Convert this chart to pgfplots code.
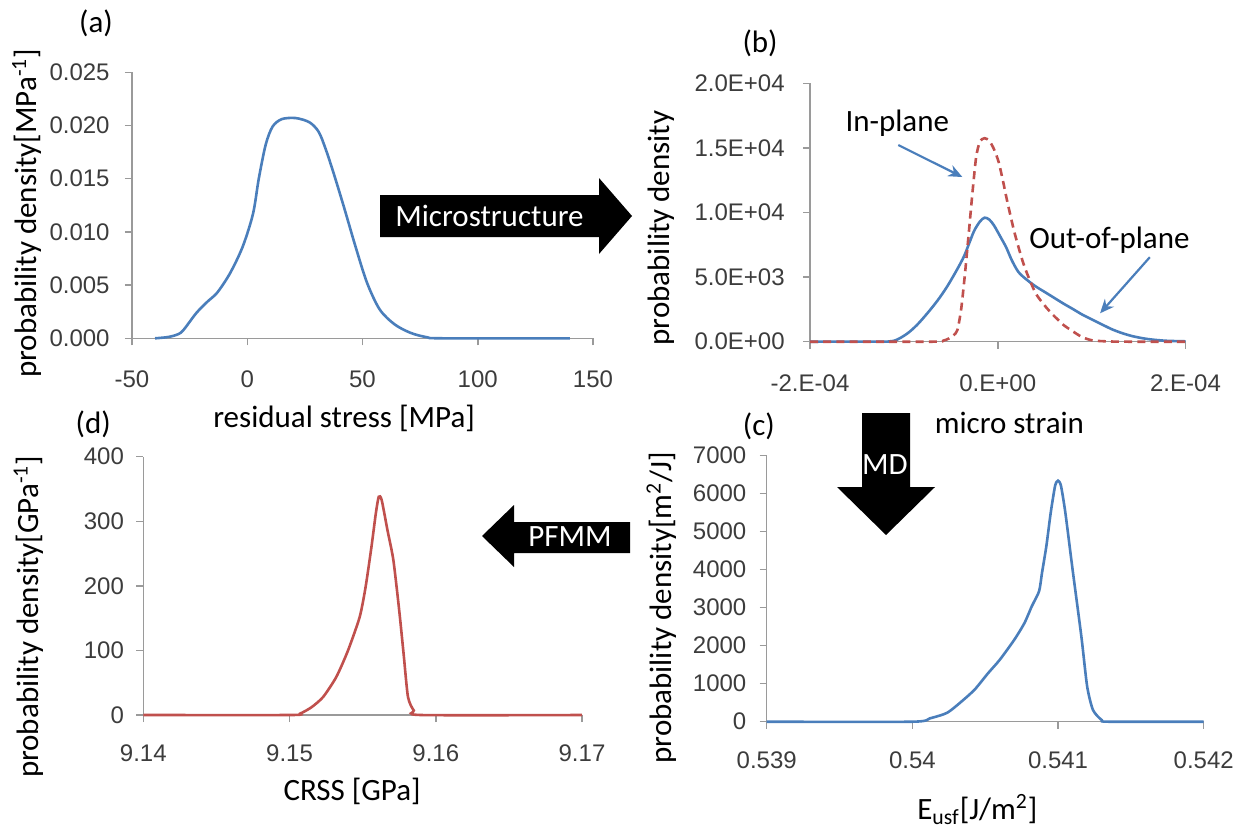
\documentclass[border=0pt]{standalone}
\usepackage{fontspec}
\setmainfont{Carlito}
\newfontfamily\tickfont{Liberation Sans}
\usepackage{pgfplots}
\pgfplotsset{compat=1.18}
\usetikzlibrary{arrows.meta}

\definecolor{lblue}{HTML}{4A7EBB}
\definecolor{lred}{HTML}{C0504D}
\definecolor{axgray}{HTML}{9A9A9A}
\definecolor{tgray}{HTML}{3C3C3C}

\tikzset{plab/.style={font=\fontsize{15.5}{18}\selectfont, inner sep=0pt}}
\pgfplotsset{
  panel/.style={
    scale only axis, clip=false, enlargelimits=false,
    scaled ticks=false,
    axis lines=left,
    axis line style={axgray, line width=0.75pt, -},
    every tick/.style={axgray, line width=0.75pt},
    tick align=outside,
    major tick length=3.5pt,
    tick label style={font=\tickfont\fontsize{12}{14}\selectfont, text=tgray, inner sep=0pt},
    xticklabel style={anchor=center},
    yticklabel style={anchor=east},
    label style={font=\fontsize{15.5}{18}\selectfont, inner sep=0pt},
    xlabel style={anchor=center},
    ylabel style={anchor=center},
  },
}

\begin{document}
\begin{tikzpicture}
\useasboundingbox (0,0) rectangle (623.5pt,413.5pt);

% ---------------- (a)
\begin{axis}[panel, at={(66pt,244.35pt)}, anchor=south west,
  width=230.5pt, height=133pt,
  xmin=-50, xmax=150, ymin=0, ymax=0.025,
  xtick={-50,0,50,100,150}, xticklabels={-50,0,50,100,150},
  ytick={0,0.005,0.01,0.015,0.02,0.025},
  yticklabels={0.000,0.005,0.010,0.015,0.020,0.025},
  xticklabel style={yshift=-17pt},
  yticklabel style={xshift=-7.5pt},
  xlabel={residual stress [MPa]},
  ylabel={probability density[MPa\textsuperscript{-1}]},
  xlabel style={at={(axis description cs:0.46,-0.30)}},
  ylabel style={at={(axis description cs:-0.228,0.47)}},
]
\addplot[lblue, line width=1.3pt, smooth, tension=0.5] table {
-40 0.0000
-35 0.0001
-31 0.0003
-28 0.0007
-22 0.0024
-17 0.0035
-13 0.0043
-7.5 0.0061
-2 0.0086
2.5 0.0117
5 0.0150
8 0.0182
11 0.0199
15 0.0206
21 0.0207
27 0.0203
31 0.0194
34 0.0178
37.5 0.0155
42 0.0123
47 0.0086
52 0.0052
57.5 0.0027
64 0.0013
71 0.0005
78 0.0001
85 0.0000
140 0.0000
};
\node[plab] at (axis description cs:-0.078,1.184) {(a)};
\end{axis}

% ---------------- (b)
\begin{axis}[panel, at={(405pt,242.65pt)}, anchor=south west,
  width=187.75pt, height=129.2pt,
  xmin=-200, xmax=200, ymin=0, ymax=20000,
  xtick={-200,0,200}, xticklabels={-2.E-04,0.E+00,2.E-04},
  ytick={0,5000,10000,15000,20000},
  yticklabels={0.0E+00,5.0E+03,1.0E+04,1.5E+04,2.0E+04},
  xticklabel style={yshift=-17.5pt},
  yticklabel style={xshift=-9pt},
  xlabel={micro strain},
  ylabel={probability density},
  xlabel style={at={(axis description cs:0.531,-0.313)}},
  ylabel style={at={(axis description cs:-0.395,0.44)}},
]
\addplot[lblue, line width=1.3pt, smooth, tension=0.5] table {
-200 0
-130 10
-111 60
-97 600
-86 1300
-75 2200
-64 3200
-54 4260
-44 5500
-36 6600
-30 7700
-25 8600
-19 9300
-14 9600
-9 9450
-4 9000
3 8100
9 7300
15 6300
22 5400
30 4850
40 4300
50 3850
60 3400
70 2950
80 2530
90 2100
101 1700
112 1300
122 950
133 650
144 420
155 260
165 160
180 70
200 30
};
\addplot[lred, line width=1.3pt, dash pattern=on 4pt off 2.6pt, smooth, tension=0.4] table {
-200 0
-70 0
-58 80
-52 250
-47 500
-43 900
-39 2500
-35 5200
-31 8300
-27 11500
-23 14300
-19 15500
-14 15750
-9 15550
-4 14900
1 13900
6 12300
10 10900
18 8400
28 5900
40 3800
50 2800
58 2140
70 1300
80 800
90 350
101 100
118 20
140 0
200 0
};
\draw[lblue, line width=1.1pt, -{Stealth[length=7pt,width=6pt]}] (axis cs:-106,15224) -- (axis cs:-37.7,12747);
\draw[lblue, line width=1.1pt, -{Stealth[length=7pt,width=6pt]}] (axis cs:162,6540) -- (axis cs:109,2200);
\node[plab] at (axis cs:-107,16927) {In-plane};
\node[plab] at (axis cs:119,7870) {Out-of-plane};
\node[plab] at (axis description cs:-0.133,1.154) {(b)};
\end{axis}

% ---------------- (c)
\begin{axis}[panel, at={(383.35pt,52.65pt)}, anchor=south west,
  width=218.5pt, height=133pt,
  xmin=0.539, xmax=0.542, ymin=0, ymax=7000,
  xtick={0.539,0.54,0.541,0.542}, xticklabels={0.539,0.54,0.541,0.542},
  ytick={0,1000,2000,3000,4000,5000,6000,7000},
  yticklabels={0,1000,2000,3000,4000,5000,6000,7000},
  xticklabel style={yshift=-16pt},
  yticklabel style={xshift=-6.5pt},
  xlabel={E\textsubscript{usf}[J/m\textsuperscript{2}]},
  ylabel={probability density[m\textsuperscript{2}/J]},
  xlabel style={at={(axis description cs:0.482,-0.33)}},
  ylabel style={at={(axis description cs:-0.241,0.429)}},
]
\addplot[lblue, line width=1.3pt, smooth, tension=0.4] table {
0.5390 0
0.5400 0
0.54012 88
0.54024 238
0.54035 573
0.54043 855
0.54052 1278
0.54060 1630
0.54070 2159
0.54077 2600
0.54082 3040
0.54087 3436
0.54089 3920
0.54092 4626
0.54095 5507
0.54098 6211
0.54100 6344
0.54102 6211
0.54105 5507
0.54110 4000
0.54116 2247
0.54120 925
0.54124 308
0.54130 44
0.54135 0
0.5420 0
};
\node[plab] at (axis description cs:-0.018,1.112) {(c)};
\end{axis}

% ---------------- (d)
\begin{axis}[panel, at={(71.65pt,56pt)}, anchor=south west,
  width=219.35pt, height=129.15pt,
  xmin=9.14, xmax=9.17, ymin=0, ymax=400,
  xtick={9.14,9.15,9.16,9.17}, xticklabels={9.14,9.15,9.16,9.17},
  ytick={0,100,200,300,400}, yticklabels={0,100,200,300,400},
  xticklabel style={yshift=-15.5pt},
  yticklabel style={xshift=-6pt},
  xlabel={CRSS [GPa]},
  ylabel={probability density[GPa\textsuperscript{-1}]},
  xlabel style={at={(axis description cs:0.476,-0.295)}},
  ylabel style={at={(axis description cs:-0.262,0.38)}},
]
\addplot[lred, line width=1.3pt, smooth, tension=0.4] table {
9.140 0
9.150 0
9.1507 2
9.1515 12
9.1523 28
9.1532 59
9.1540 100
9.1548 152
9.1552 198
9.1556 260
9.1559 312
9.1561 338
9.1563 333
9.1567 286
9.1571 240
9.1575 162
9.1578 95
9.1581 28
9.1585 7
9.1590 0
9.170 0
};
\node[plab] at (axis description cs:-0.114,1.124) {(d)};
\end{axis}

% ---------------- block arrows
\fill[black] (190pt,316pt) -- (299.5pt,316pt) -- (299.5pt,324.5pt) -- (316pt,305.5pt)
  -- (299.5pt,286.5pt) -- (299.5pt,295pt) -- (190pt,295pt) -- cycle;
\node[plab, text=white] at (244.75pt,305.5pt) {Microstructure};

\fill[black] (315pt,152.5pt) -- (257pt,152.5pt) -- (257pt,161pt) -- (241pt,145.5pt)
  -- (257pt,130pt) -- (257pt,137pt) -- (315pt,137pt) -- cycle;
\node[plab, text=white] at (285pt,145pt) {PFMM};

\fill[black] (431pt,207pt) -- (455pt,207pt) -- (455pt,170pt) -- (467.5pt,170pt)
  -- (443pt,146pt) -- (418.5pt,170pt) -- (431pt,170pt) -- cycle;
\node[plab, text=white] at (442.5pt,181pt) {MD};
\end{tikzpicture}
\end{document}
